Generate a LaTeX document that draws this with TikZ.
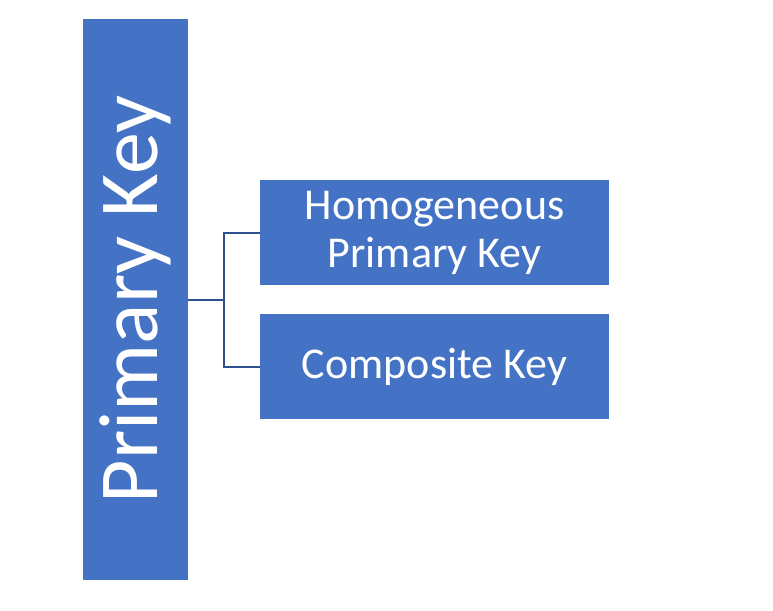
\documentclass[tikz,border=0pt]{standalone}
\usepackage{fontspec}
\setmainfont{Carlito}
\usetikzlibrary{positioning}
\definecolor{boxblue}{HTML}{4472C4}
\definecolor{lineblue}{HTML}{2F528F}

\begin{document}
\begin{tikzpicture}[x=1pt,y=-1pt,
    box/.style={fill=boxblue, text=white, inner sep=0pt, align=center},
    conn/.style={draw=lineblue, line width=2pt}]
  \useasboundingbox (0,0) rectangle (773,610);
  % main key
  \node[box, minimum width=105pt, minimum height=561pt] (pk) at (135.5,299.5)
    {\rotatebox{90}{\fontsize{84}{90}\selectfont Primary Key}};
  % kinds
  \node[box, minimum width=349pt, minimum height=105pt, font=\fontsize{44}{48}\selectfont] (homo) at (434.5,232.5) {Homogeneous\\Primary Key};
  \node[box, minimum width=349pt, minimum height=105pt, font=\fontsize{44}{48}\selectfont] (comp) at (434.5,366.5) {Composite Key};
  \draw[conn] (pk.east) -- ++(36,0) coordinate (fork);
  \draw[conn] (homo.west) -| (fork) |- (comp.west);
\end{tikzpicture}
\end{document}
